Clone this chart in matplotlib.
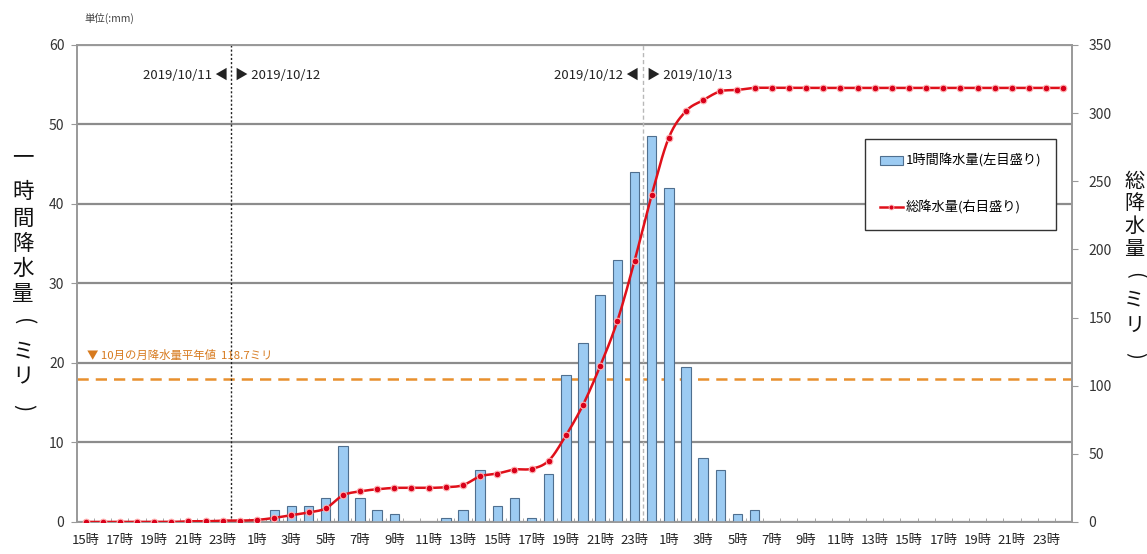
import matplotlib
matplotlib.use('Agg')
import matplotlib.pyplot as plt
import numpy as np
from matplotlib.lines import Line2D
from matplotlib.patches import Patch

plt.rcParams['font.family'] = ['Noto Sans CJK JP', 'DejaVu Sans']

# hourly rainfall (mm), 2019/10/11 15時 .. 2019/10/13 24時
hourly = [0, 0, 0, 0, 0, 0, 0, 0, 0, 0,
          0, 1.5, 2.0, 2.0, 3.0, 9.5, 3.0, 1.5, 1.0, 0,
          0, 0.5, 1.5, 6.5, 2.0, 3.0, 0.5, 6.0, 18.5, 22.5,
          28.5, 33.0, 44.0, 48.5, 42.0, 19.5, 8.0, 6.5, 1.0, 1.5,
          0, 0, 0, 0, 0, 0, 0, 0, 0, 0,
          0, 0, 0, 0, 0, 0, 0, 0]

# total rainfall (mm)
total = [0, 0, 0, 0, 0, 0, 0.5, 0.5, 1.0, 1.0,
         1.5, 3.0, 5.0, 7.0, 10.0, 19.5, 22.5, 24.0, 25.0, 25.0,
         25.0, 25.5, 27.0, 33.5, 35.5, 38.5, 39.0, 45.0, 63.5, 86.0,
         114.5, 147.5, 191.5, 240.0, 282.0, 301.5, 309.5, 316.0, 317.0, 318.5,
         318.5, 318.5, 318.5, 318.5, 318.5, 318.5, 318.5, 318.5, 318.5, 318.5,
         318.5, 318.5, 318.5, 318.5, 318.5, 318.5, 318.5, 318.5]

tick_lab = ['15時', '17時', '19時', '21時', '23時',
            '1時', '3時', '5時', '7時', '9時', '11時', '13時',
            '15時', '17時', '19時', '21時', '23時',
            '1時', '3時', '5時', '7時', '9時', '11時', '13時',
            '15時', '17時', '19時', '21時', '23時']

normal_oct = 18.0      # 10月の月降水量平年値 line (left scale)
day_breaks = [8.5, 32.5]
day_labels = [('2019/10/11', '2019/10/12'), ('2019/10/12', '2019/10/13')]

# vertical axis titles: (char, y position in figure fraction, rotated?)
left_title = [('一', 0.717, False), ('時', 0.654, False), ('間', 0.604, False),
              ('降', 0.560, False), ('水', 0.515, False), ('量', 0.469, False),
              ('(', 0.419, True), ('ミ', 0.366, False), ('リ', 0.318, False),
              (')', 0.264, True)]
right_title = [('総', 0.672, False), ('降', 0.632, False), ('水', 0.591, False),
               ('量', 0.549, False), ('(', 0.503, True), ('ミ', 0.459, False),
               ('リ', 0.413, False), (')', 0.358, True)]

x = np.arange(len(hourly))


def smooth(xv, yv, n=16):
    # catmull-rom style bezier through the points
    pts = np.column_stack([np.asarray(xv, float), np.asarray(yv, float)])
    out = [pts[0]]
    t = np.linspace(0, 1, n)[1:, None]
    for i in range(len(pts) - 1):
        p0 = pts[max(i - 1, 0)]
        p1 = pts[i]
        p2 = pts[i + 1]
        p3 = pts[min(i + 2, len(pts) - 1)]
        c1 = p1 + (p2 - p0) / 6
        c2 = p2 - (p3 - p1) / 6
        seg = ((1 - t) ** 3) * p1 + 3 * ((1 - t) ** 2) * t * c1 \
            + 3 * (1 - t) * t ** 2 * c2 + t ** 3 * p2
        out.extend(seg)
    out = np.array(out)
    return out[:, 0], out[:, 1]


fig = plt.figure(figsize=(11.47, 5.54), dpi=100)
ax = fig.add_axes([0.0671, 0.0578, 0.8675, 0.861])

# gridlines
ax.set_ylim(0, 60)
ax.set_yticks(range(0, 61, 10))
ax.yaxis.grid(True, color='#8c8c8c', lw=1.6)
ax.set_axisbelow(True)

ax.bar(x, hourly, width=0.55, color='#9ccbf2', edgecolor='#4f6f8f', lw=0.8, zorder=3)

ax.axhline(normal_oct, color='#e8902e', lw=1.8, ls=(0, (4.5, 2.8)), zorder=2)
ax.text(0.1, 21.0, '▼ 10月の月降水量平年値  118.7ミリ', color='#d77a1e',
        fontsize=8.2, va='center', ha='left', zorder=4)

ax.axvline(day_breaks[0], color='#222222', lw=1.0, ls=(0, (1.5, 1.5)), zorder=2)
ax.axvline(day_breaks[1], color='#b8b8b8', lw=1.0, ls=(0, (3, 2)), zorder=2)
for xb, (d1, d2) in zip(day_breaks, day_labels):
    ax.text(xb - 0.2, 56.2, d1 + ' ◀', ha='right', va='center', fontsize=9.5, color='#222222')
    ax.text(xb + 0.2, 56.2, '▶ ' + d2, ha='left', va='center', fontsize=9.5, color='#222222')

ax.set_xlim(-0.5, len(hourly) - 0.5)
ax.set_xticks(x[::2])
ax.set_xticklabels(tick_lab)
ax.set_xticks(np.arange(-0.5, len(hourly), 1), minor=True)
ax.tick_params(axis='x', which='major', length=0, pad=9, labelsize=9.5, labelcolor='#222222')
ax.tick_params(axis='x', which='minor', direction='in', length=3, color='#999999')
ax.tick_params(axis='y', length=4, color='#999999', pad=5, labelsize=10, labelcolor='#333333')

for s in ax.spines.values():
    s.set_color('#999999')
    s.set_linewidth(1.2)

# total rainfall on the right scale
ax2 = ax.twinx()
ax2.set_ylim(0, 350)
ax2.set_yticks(range(0, 351, 50))
ax2.tick_params(axis='y', length=4, color='#999999', pad=8, labelsize=10, labelcolor='#333333')
for s in ax2.spines.values():
    s.set_color('#999999')
    s.set_linewidth(1.2)

sx, sy = smooth(x, total)
ax2.plot(sx, sy, color='#e0101a', lw=1.8, zorder=3)
ax2.plot(x, total, ls='none', marker='o', ms=4.8, mfc='#d8001a', mec='#ffb3b3', mew=0.8, zorder=4)

handles = [Patch(facecolor='#9ccbf2', edgecolor='#4f6f8f', lw=0.8),
           Line2D([], [], color='#e0101a', lw=1.8, marker='o', ms=3.5,
                  mfc='#d8001a', mec='#ffb3b3', mew=0.6)]
leg = ax2.legend(handles, ['1時間降水量(左目盛り)', '総降水量(右目盛り)'],
                 loc='upper left', bbox_to_anchor=(0.792, 0.802),
                 fontsize=9.5, frameon=True, fancybox=False, framealpha=1,
                 edgecolor='#333333', labelspacing=2.5, borderpad=1.1,
                 handlelength=1.8, handletextpad=0.2, borderaxespad=0)
leg.get_frame().set_linewidth(1.0)

fig.text(0.074, 0.967, '単位(:mm)', fontsize=7.5, color='#444444', va='center')

# axis titles, one character per line; brackets turned for vertical writing
for ch, yy, rot in left_title:
    fig.text(0.020, yy, ch, fontsize=15.5, ha='center', va='center',
             rotation=-90 if rot else 0, color='#111111')
for ch, yy, rot in right_title:
    fig.text(0.989, yy, ch, fontsize=14.5, ha='center', va='center',
             rotation=-90 if rot else 0, color='#111111')

fig.savefig('out.png', dpi=100)
